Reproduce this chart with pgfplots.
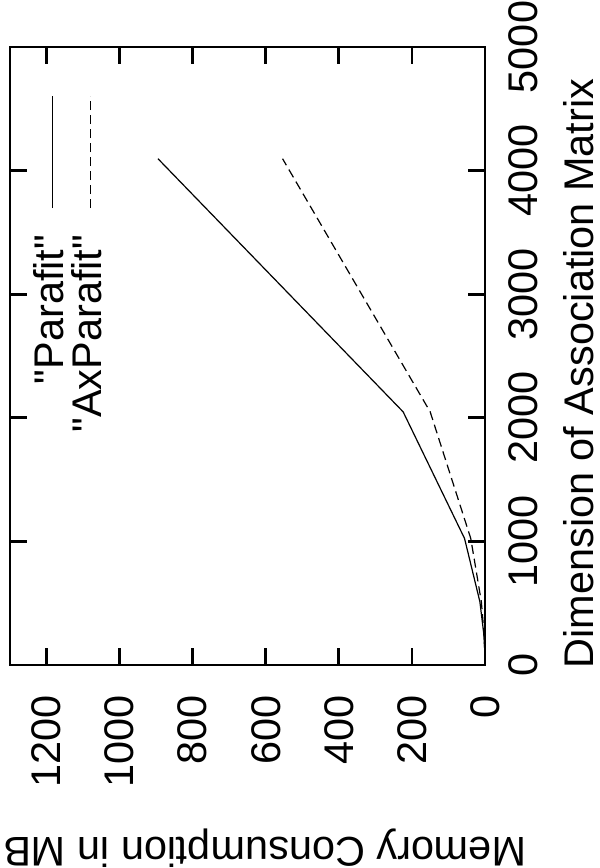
\documentclass[border=0pt]{standalone}
\usepackage{graphicx}
\usepackage{fontspec}
\setmainfont{Liberation Sans}
\usepackage{pgfplots}
\pgfplotsset{compat=1.18}

% memory use (MB) against matrix dimension
\begin{document}
\rotatebox{90}{%
\begin{tikzpicture}[font=\fontsize{20.8}{25}\selectfont]
\begin{axis}[
    scale only axis,
    width=309bp, height=237.5bp,
    at={(0,0)}, anchor=south west,
    xmin=0, xmax=5000, ymin=0, ymax=1300,
    xtick={0,1000,...,5000},
    ytick={0,200,...,1200},
    tick align=inside,
    major tick length=8.5bp,
    axis line style={line width=1.4bp},
    tick style={line width=1.4bp, black},
    /pgf/number format/assume math mode=true,
    /pgf/number format/1000 sep={},
    xticklabel style={inner sep=0pt, yshift=-11.5bp},
    yticklabel style={inner sep=0pt, xshift=-15bp},
    xlabel={Dimension of Association Matrix},
    ylabel={Memory Consumption in MB},
    xlabel style={at={(axis description cs:0.4717,-0.2274)}, anchor=base, inner sep=0pt},
    ylabel style={at={(axis description cs:-0.2799,0.4632)}, anchor=base, inner sep=0pt},
    legend cell align=right,
    legend plot pos=right,
    legend image code/.code={\draw[#1] (0bp,0bp) -- (56bp,0bp);},
    legend style={at={(axis description cs:0.922,1)}, anchor=north east,
        yshift=-11.5bp, draw=none, fill=none, inner sep=0pt,
        row sep=0pt, column sep=13bp,
        nodes={inner sep=0pt, text height=15bp, text depth=4bp}},
]
\addplot[black, line width=0.6bp] coordinates {
(0,0) (64,0.2) (128,0.9) (256,3.5) (512,14) (1024,56) (2048,224) (4096,895)
};
\addlegendentry{\textquotedbl Parafit\textquotedbl}
\addplot[black, line width=0.6bp, dash pattern=on 4.5bp off 2.5bp] coordinates {
(0,0) (64,0.2) (128,0.8) (256,2.7) (512,10) (1024,39) (2048,150) (4096,554)
};
\addlegendentry{\textquotedbl AxParafit\textquotedbl}
\end{axis}
\pgfresetboundingbox
\useasboundingbox (-101.5bp,-57.5bp) rectangle (332.5bp,242.5bp);
\end{tikzpicture}%
}
\end{document}
